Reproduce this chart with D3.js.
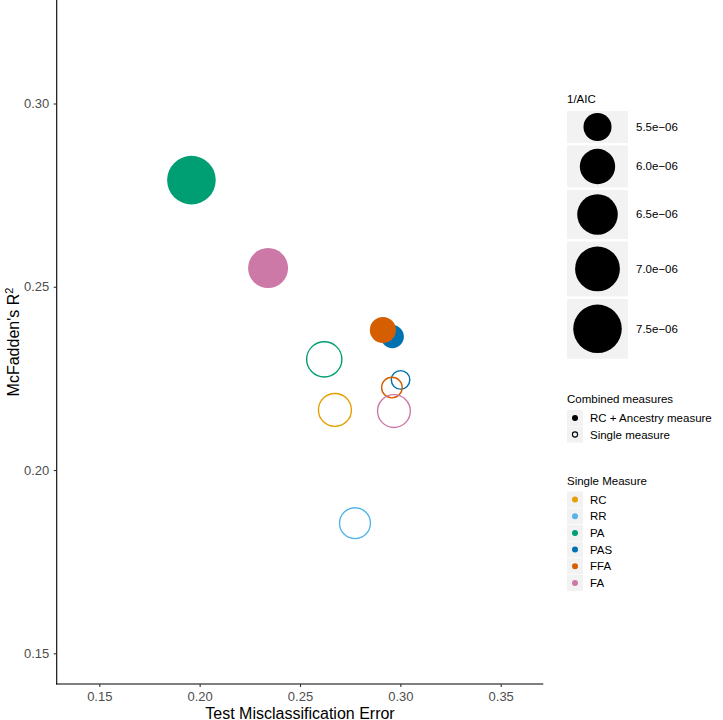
<!DOCTYPE html>
<html><head><meta charset="utf-8">
<script src="https://cdn.jsdelivr.net/npm/d3@7"></script>
<style>body{margin:0;background:#fff}svg{display:block}text{font-family:"Liberation Sans",Arial,sans-serif}</style>
</head><body><svg id="c" width="723" height="720"></svg>
<script>
// ---- data ----
const measures = ["RC","RR","PA","PAS","FFA","FA"];
const measureColors = ["#E69F00","#56B4E9","#009E73","#0072B2","#D55E00","#CC79A7"];
// single-measure models (hollow)
const singleMeasure = ["RC","RR","PA","PAS","FFA","FA"];
const singleError   = [0.2674,0.2774,0.2621,0.3001,0.2958,0.2968];
const singleR2      = [0.2164,0.1855,0.2302,0.2246,0.2225,0.2161];
const singleInvAIC  = [5.81e-6,5.67e-6,5.99e-6,5.21e-6,5.24e-6,5.80e-6];
// RC + ancestry measure models (filled)
const combMeasure = ["PA","PAS","FFA","FA"];
const combError   = [0.1959,0.2960,0.2913,0.2341];
const combR2      = [0.2791,0.2364,0.2382,0.2551];
const combInvAIC  = [7.51e-6,5.30e-6,5.41e-6,6.44e-6];
const xTicks = [0.15,0.20,0.25,0.30,0.35];
const yTicks = [0.15,0.20,0.25,0.30];
const sizeBreaks = [5.5e-6,6.0e-6,6.5e-6,7.0e-6,7.5e-6];
const sizeLabels = ["5.5e\u221206","6.0e\u221206","6.5e\u221206","7.0e\u221206","7.5e\u221206"];
const shapeLabels = ["RC + Ancestry measure","Single measure"];

// ---- scales ----
const svg = d3.select("#c");
const x = d3.scaleLinear().domain([0.15,0.35]).range([99.3,500.7]);
const y = d3.scaleLinear().domain([0.15,0.30]).range([653.3,103.5]);
const X0 = 56.7, X1 = 543.3, Y0 = 0, Y1 = 684;
const color = d3.scaleOrdinal().domain(measures).range(measureColors);
const sz = d3.scaleLinear().domain([0,1]).range([8.2,18.8]);
const rOf = v => sz(Math.sqrt(Math.max(0,(v-5.2e-6)/1e-6)));

// ---- points ----
const single = singleMeasure.map((m,i)=>({m,e:singleError[i],r2:singleR2[i],a:singleInvAIC[i]}));
const comb = combMeasure.map((m,i)=>({m,e:combError[i],r2:combR2[i],a:combInvAIC[i]}));
const pts = svg.append("g");
pts.selectAll("circle.s").data(single).join("circle").attr("class","s")
  .attr("cx",d=>x(d.e)).attr("cy",d=>y(d.r2)).attr("r",d=>rOf(d.a))
  .attr("fill","none").attr("stroke",d=>color(d.m)).attr("stroke-width",1.4);
pts.selectAll("circle.f").data(comb).join("circle").attr("class","f")
  .attr("cx",d=>x(d.e)).attr("cy",d=>y(d.r2)).attr("r",d=>rOf(d.a))
  .attr("fill",d=>color(d.m));

// ---- axes ----
const ax = svg.append("g");
ax.append("line").attr("x1",X0).attr("x2",X0).attr("y1",Y0).attr("y2",Y1+0.55).attr("stroke","#000").attr("stroke-width",1.1);
ax.append("line").attr("x1",X0-0.55).attr("x2",X1).attr("y1",Y1).attr("y2",Y1).attr("stroke","#000").attr("stroke-width",1.1);
const xa = svg.append("g").attr("transform",`translate(0,${Y1})`)
  .call(d3.axisBottom(x).tickValues(xTicks).tickFormat(d3.format(".2f")).tickSize(3).tickPadding(4.5));
const ya = svg.append("g").attr("transform",`translate(${X0},0)`)
  .call(d3.axisLeft(y).tickValues(yTicks).tickFormat(d3.format(".2f")).tickSize(3).tickPadding(4.4));
[xa,ya].forEach(g=>{g.select(".domain").remove();
  g.selectAll(".tick line").attr("stroke","#333").attr("stroke-width",1.1);
  g.selectAll(".tick text").attr("fill","#4D4D4D").style("font-size","13px").style("font-family","'Liberation Sans',Arial,sans-serif");});
svg.append("text").attr("x",(X0+X1)/2).attr("y",718.5).attr("text-anchor","middle").style("font-size","16px").text("Test Misclassification Error");
const yt = svg.append("text").attr("transform",`translate(18.5,${(Y0+Y1)/2}) rotate(-90)`).attr("text-anchor","middle").style("font-size","16px");
yt.append("tspan").text("McFadden's R");
yt.append("tspan").attr("dy",-6).style("font-size","11px").text("2");

// ---- legends ----
const L = svg.append("g");
const LX = 567;
const fs = "11.5px";
L.append("text").attr("x",LX).attr("y",103).style("font-size",fs).text("1/AIC");
let ky = 111;
sizeBreaks.forEach((v,i)=>{
  const r = rOf(v), h = 2*r + 0.72*(r-8.5);
  L.append("rect").attr("x",LX).attr("y",ky).attr("width",61).attr("height",h).attr("fill","#F2F2F2");
  L.append("circle").attr("cx",LX+30.5).attr("cy",ky+h/2).attr("r",r).attr("fill","#000");
  L.append("text").attr("x",636).attr("y",ky+h/2+4).style("font-size",fs).text(sizeLabels[i]);
  ky += h + 2.5;
});
L.append("text").attr("x",LX).attr("y",402.5).style("font-size",fs).text("Combined measures");
shapeLabels.forEach((t,i)=>{
  const cy = 418 + i*16.5;
  L.append("rect").attr("x",LX).attr("y",cy-8).attr("width",16).attr("height",16).attr("fill","#F2F2F2");
  L.append("circle").attr("cx",LX+8).attr("cy",cy).attr("r",i===0?3:2.6)
   .attr("fill",i===0?"#000":"none").attr("stroke",i===0?"none":"#000").attr("stroke-width",1.1);
  L.append("text").attr("x",590).attr("y",cy+4).style("font-size",fs).text(t);
});
L.append("text").attr("x",LX).attr("y",484.5).style("font-size",fs).text("Single Measure");
measures.forEach((m,i)=>{
  const cy = 499.5 + i*16.7;
  L.append("rect").attr("x",LX).attr("y",cy-8).attr("width",16).attr("height",16).attr("fill","#F2F2F2");
  L.append("circle").attr("cx",LX+8).attr("cy",cy).attr("r",3).attr("fill",color(m));
  L.append("text").attr("x",590).attr("y",cy+4).style("font-size",fs).text(m);
});
</script></body></html>
